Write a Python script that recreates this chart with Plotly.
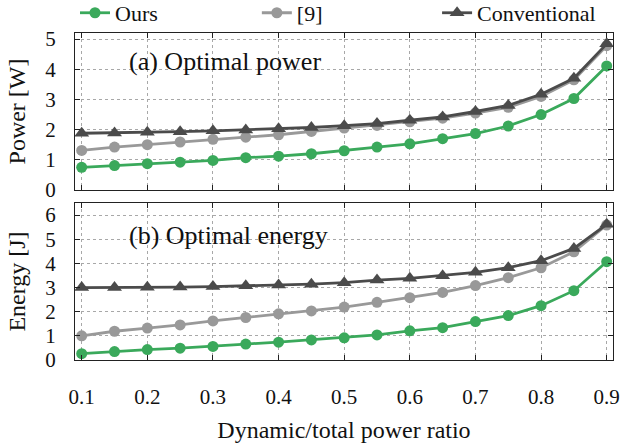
import plotly.graph_objects as go

x = [0.10, 0.15, 0.20, 0.25, 0.30, 0.35, 0.40, 0.45, 0.50,
     0.55, 0.60, 0.65, 0.70, 0.75, 0.80, 0.85, 0.90]

power_ours = [0.75, 0.81, 0.87, 0.92, 0.98, 1.07, 1.12, 1.20, 1.30,
              1.42, 1.53, 1.70, 1.87, 2.12, 2.50, 3.03, 4.11]
power_ref9 = [1.31, 1.42, 1.50, 1.59, 1.68, 1.75, 1.83, 1.94, 2.05,
              2.14, 2.26, 2.38, 2.55, 2.74, 3.10, 3.65, 4.78]
power_conv = [1.88, 1.89, 1.91, 1.93, 1.96, 1.99, 2.03, 2.07, 2.13,
              2.20, 2.31, 2.42, 2.60, 2.80, 3.17, 3.70, 4.84]

energy_ours = [0.26, 0.35, 0.43, 0.49, 0.56, 0.66, 0.74, 0.83, 0.92,
               1.04, 1.21, 1.34, 1.59, 1.84, 2.25, 2.87, 4.07]
energy_ref9 = [1.00, 1.19, 1.32, 1.45, 1.62, 1.76, 1.91, 2.03, 2.19,
               2.39, 2.58, 2.80, 3.08, 3.41, 3.82, 4.48, 5.59]
energy_conv = [3.00, 3.00, 3.01, 3.02, 3.04, 3.07, 3.11, 3.14, 3.20,
               3.31, 3.38, 3.49, 3.63, 3.82, 4.11, 4.62, 5.62]

x_ticks = [0.1, 0.2, 0.3, 0.4, 0.5, 0.6, 0.7, 0.8, 0.9]
power_ticks = [0, 1, 2, 3, 4, 5]
energy_ticks = [0, 1, 2, 3, 4, 5, 6]

names = ["Ours", "[9]", "Conventional"]
colors = ["#3aa95b", "#999999", "#4b4b4b"]
symbols = ["circle", "circle", "triangle-up"]
sizes = [11, 11, 13]
legend_ids = ["legend", "legend2", "legend3"]
legend_x = [0.0, 0.338, 0.673]

FONT = "Liberation Serif"

fig = go.Figure()
for i, (yp, ye) in enumerate([(power_ours, energy_ours),
                              (power_ref9, energy_ref9),
                              (power_conv, energy_conv)]):
    fig.add_trace(go.Scatter(
        x=x, y=yp, mode="lines+markers", name=names[i],
        line=dict(color=colors[i], width=2.8),
        marker=dict(color=colors[i], symbol=symbols[i], size=sizes[i]),
        xaxis="x", yaxis="y", showlegend=True, legend=legend_ids[i]))
    fig.add_trace(go.Scatter(
        x=x, y=ye, mode="lines+markers", name=names[i],
        line=dict(color=colors[i], width=2.8),
        marker=dict(color=colors[i], symbol=symbols[i], size=sizes[i]),
        xaxis="x2", yaxis="y2", showlegend=False))

axis_common = dict(
    showline=True, linecolor="#222222", linewidth=1.2, mirror="allticks",
    ticks="inside", ticklen=5, tickcolor="#222222",
    showgrid=True, gridcolor="#a8a8a8", griddash="dot", gridwidth=1,
    zeroline=False, automargin=False,
    tickfont=dict(family=FONT, size=21, color="#111111"),
)

legend_common = dict(orientation="h", xanchor="left", yref="container",
                     y=0.971, yanchor="middle",
                     font=dict(family=FONT, size=22, color="#111111"),
                     bgcolor="rgba(0,0,0,0)", itemwidth=30)

fig.update_layout(
    width=631, height=447,
    margin=dict(l=75, r=18, t=33, b=87, autoexpand=False),
    paper_bgcolor="white", plot_bgcolor="white",
    font=dict(family=FONT, color="#111111"),
    xaxis=dict(domain=[0, 1], range=[0.0898, 0.9096], anchor="y",
               tickvals=x_ticks, showticklabels=False, **axis_common),
    yaxis=dict(domain=[0.5199, 1], range=[0, 5.2], anchor="x",
               tickvals=power_ticks, ticklabelstandoff=14,
               title=dict(text="Power [W]", font=dict(family=FONT, size=24), standoff=12),
               **axis_common),
    xaxis2=dict(domain=[0, 1], range=[0.0898, 0.9096], anchor="y2",
                tickvals=x_ticks, tickformat=".1f", ticklabelstandoff=18,
                title=dict(text="Dynamic/total power ratio", font=dict(family=FONT, size=24), standoff=12),
                **axis_common),
    yaxis2=dict(domain=[0, 0.4801], range=[0, 6.5], anchor="x2",
                tickvals=energy_ticks, ticklabelstandoff=14,
                title=dict(text="Energy [J]", font=dict(family=FONT, size=24), standoff=12),
                **axis_common),
    legend=dict(x=legend_x[0], **legend_common),
    legend2=dict(x=legend_x[1], **legend_common),
    legend3=dict(x=legend_x[2], **legend_common),
    annotations=[
        dict(text="(a) Optimal power", x=0.0967, y=0.914, xref="paper", yref="paper",
             xanchor="left", yanchor="middle", showarrow=False,
             font=dict(family=FONT, size=26, color="#111111")),
        dict(text="(b) Optimal energy", x=0.0967, y=0.382, xref="paper", yref="paper",
             xanchor="left", yanchor="middle", showarrow=False,
             font=dict(family=FONT, size=26, color="#111111")),
    ],
)

fig.write_html("out.html")
